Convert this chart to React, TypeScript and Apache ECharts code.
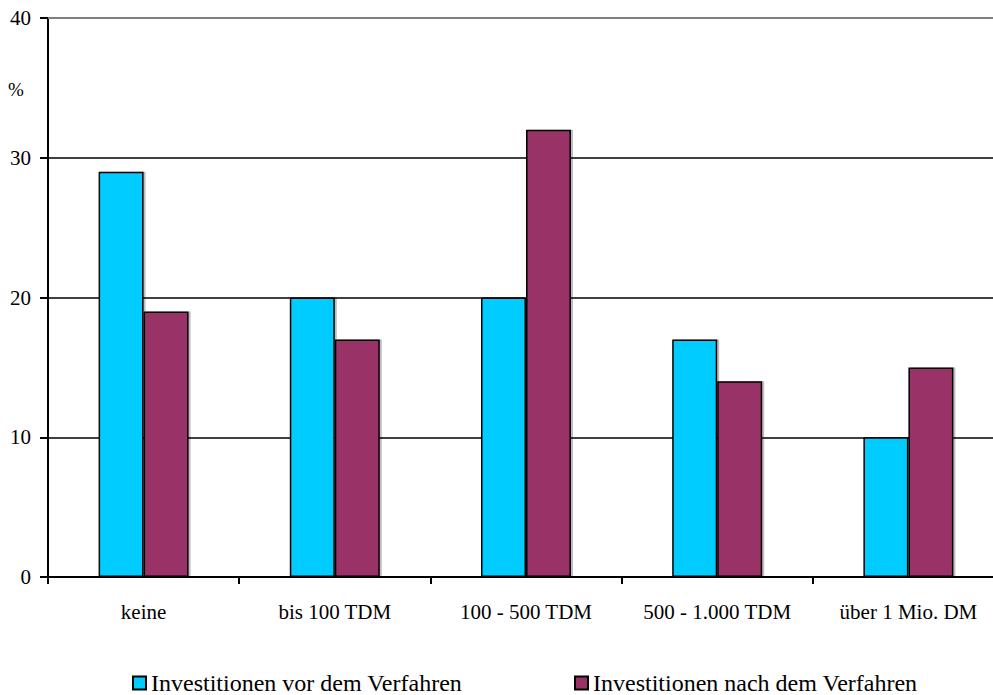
import React, { useEffect, useRef } from "react";
import * as echarts from "echarts";

const categories = ["keine", "bis 100 TDM", "100 - 500 TDM", "500 - 1.000 TDM", "über 1 Mio. DM"];
const seriesNames = ["Investitionen vor dem Verfahren", "Investitionen nach dem Verfahren"];
const vorValues = [29, 20, 20, 17, 10];
const nachValues = [19, 17, 32, 14, 15];
const colors = ["#00CCFF", "#993366"];

const FONT = "Liberation Serif";

export default function App() {
  const ref = useRef<HTMLDivElement>(null);
  useEffect(() => {
    if (!ref.current) return;
    const chart = echarts.init(ref.current, null, { renderer: "svg" });
    const barStyle = (c: string) => ({
      color: c,
      borderColor: "#000",
      borderWidth: 1.5,
      shadowColor: "rgba(0,0,0,0.25)",
      shadowOffsetX: 2,
      shadowOffsetY: 0,
      shadowBlur: 0,
    });
    const legendCommon = {
      top: 666,
      icon: "rect",
      itemWidth: 13,
      itemHeight: 13,
      itemStyle: { borderColor: "#000", borderWidth: 2 },
      textStyle: { fontFamily: FONT, fontSize: 24, lineHeight: 24, color: "#000" },
    };
    chart.setOption({
      animation: false,
      backgroundColor: "#fff",
      grid: { left: 48, top: 18, bottom: 118, right: 0, containLabel: false },
      xAxis: [
        {
          type: "category",
          data: categories,
          position: "bottom",
          axisLine: { lineStyle: { color: "#000", width: 2 } },
          axisTick: { show: true, interval: 0, length: 7, lineStyle: { color: "#000", width: 2 } },
          axisLabel: { interval: 0, fontFamily: FONT, fontSize: 21, color: "#000", margin: 24 },
          splitLine: { show: false },
        },
        {
          type: "category",
          data: categories,
          position: "top",
          axisLine: { show: true, lineStyle: { color: "#7f7f7f", width: 2 } },
          axisTick: { show: false },
          axisLabel: { show: false },
          splitLine: { show: false },
        },
      ],
      yAxis: {
        type: "value",
        min: 0,
        max: 40,
        interval: 10,
        axisLine: { show: true, lineStyle: { color: "#000", width: 2 } },
        axisTick: { show: true, length: 8, lineStyle: { color: "#000", width: 2 } },
        axisLabel: { fontFamily: FONT, fontSize: 21, color: "#000", margin: 17 },
        splitLine: { show: true, showMaxLine: false, lineStyle: { color: "#000", width: 1.5 } },
      },
      legend: [
        { ...legendCommon, left: 127, data: [seriesNames[0]] },
        { ...legendCommon, left: 569, data: [seriesNames[1]] },
      ],
      graphic: [
        {
          type: "text",
          left: 8,
          top: 80,
          style: { text: "%", fontFamily: FONT, fontSize: 19, fill: "#000" },
        },
      ],
      series: [
        {
          name: seriesNames[0],
          type: "bar",
          data: vorValues,
          barWidth: 45,
          barGap: "0%",
          itemStyle: barStyle(colors[0]),
        },
        {
          name: seriesNames[1],
          type: "bar",
          data: nachValues,
          barWidth: 45,
          barGap: "0%",
          itemStyle: barStyle(colors[1]),
        },
      ],
    });
    return () => chart.dispose();
  }, []);
  return (
    <div
      ref={ref}
      style={{ position: "fixed", left: 0, top: 0, width: 1004, height: 695 }}
    />
  );
}
